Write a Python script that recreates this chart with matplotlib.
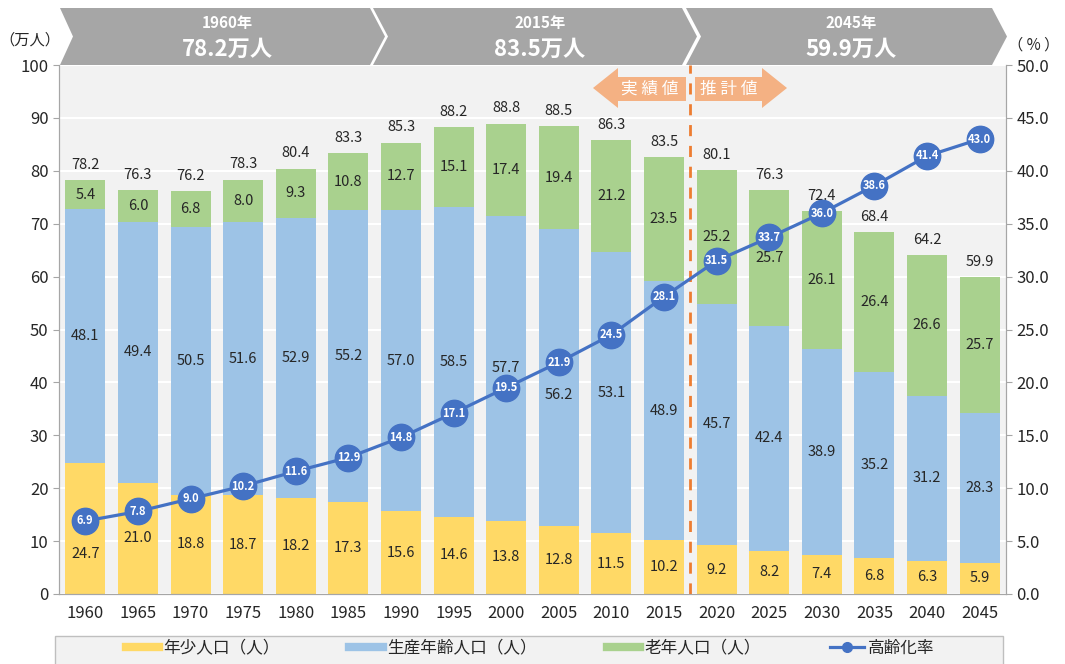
import matplotlib
matplotlib.use("Agg")
import matplotlib.pyplot as plt
import numpy as np
from matplotlib.patches import Polygon, Rectangle
from matplotlib.lines import Line2D

plt.rcParams['font.family'] = ['Noto Sans CJK JP', 'DejaVu Sans']

years = [1960, 1965, 1970, 1975, 1980, 1985, 1990, 1995, 2000,
         2005, 2010, 2015, 2020, 2025, 2030, 2035, 2040, 2045]
young = [24.7, 21.0, 18.8, 18.7, 18.2, 17.3, 15.6, 14.6, 13.8,
         12.8, 11.5, 10.2, 9.2, 8.2, 7.4, 6.8, 6.3, 5.9]
working = [48.1, 49.4, 50.5, 51.6, 52.9, 55.2, 57.0, 58.5, 57.7,
           56.2, 53.1, 48.9, 45.7, 42.4, 38.9, 35.2, 31.2, 28.3]
old = [5.4, 6.0, 6.8, 8.0, 9.3, 10.8, 12.7, 15.1, 17.4,
       19.4, 21.2, 23.5, 25.2, 25.7, 26.1, 26.4, 26.6, 25.7]
total = [78.2, 76.3, 76.2, 78.3, 80.4, 83.3, 85.3, 88.2, 88.8,
         88.5, 86.3, 83.5, 80.1, 76.3, 72.4, 68.4, 64.2, 59.9]
aging_rate = [6.9, 7.8, 9.0, 10.2, 11.6, 12.9, 14.8, 17.1, 19.5,
              21.9, 24.5, 28.1, 31.5, 33.7, 36.0, 38.6, 41.4, 43.0]
series_names = ['年少人口（人）', '生産年齢人口（人）', '老年人口（人）', '高齢化率']
banner_years = [1960, 2015, 2045]
last_actual = 2015

C_YOUNG = '#FFD966'
C_WORK = '#9DC3E6'
C_OLD = '#A9D18E'
C_LINE = '#4472C4'
TXT = '#262626'

W, H = 1065, 664
fig = plt.figure(figsize=(W / 100, H / 100), dpi=100)
ax = fig.add_axes([59 / W, 1 - 594 / H, (1006 - 59) / W, (594 - 65) / H])
ax.set_facecolor('#F2F2F2')

x = np.arange(len(years))
young_a = np.array(young)
work_a = np.array(working)
old_a = np.array(old)
rate_left = np.array(aging_rate) * 2  # marker height in left-axis units
bw = 0.76
ax.bar(x, young_a, bw, color=C_YOUNG, zorder=2)
ax.bar(x, work_a, bw, bottom=young_a, color=C_WORK, zorder=2)
ax.bar(x, old_a, bw, bottom=young_a + work_a, color=C_OLD, zorder=2)


def label_y(y, i):
    # push a label down when it sits just under the marker
    d = rate_left[i] - y
    if 0 <= d < 3:
        return rate_left[i] - 6.2
    return y


for i in range(len(years)):
    ax.text(x[i], label_y(young_a[i] / 2, i), f'{young[i]:.1f}', ha='center',
            va='center', fontsize=10.5, color=TXT, zorder=3)
    ax.text(x[i], label_y(young_a[i] + work_a[i] / 2, i), f'{working[i]:.1f}',
            ha='center', va='center', fontsize=10.5, color=TXT, zorder=3)
    ax.text(x[i], young_a[i] + work_a[i] + old_a[i] / 2, f'{old[i]:.1f}',
            ha='center', va='center', fontsize=10.5, color=TXT, zorder=3)
    ax.annotate(f'{total[i]:.1f}', (x[i], young_a[i] + work_a[i] + old_a[i]),
                xytext=(0, 6), textcoords='offset points', ha='center',
                va='bottom', fontsize=10.5, color=TXT, zorder=3)

split = years.index(last_actual) + 0.5
ax.axvline(split, color='#ED7D31', lw=2, dashes=(4, 3.5), zorder=4)

ax.set_xlim(-0.5, len(years) - 0.5)
ax.set_ylim(0, 100)
ax.set_yticks(range(0, 101, 10))
ax.set_xticks(x)
ax.set_xticklabels([str(y) for y in years], fontsize=12, color=TXT)
ax.tick_params(axis='x', length=0, pad=8)
ax.tick_params(axis='y', labelsize=12, labelcolor=TXT, color='#A6A6A6',
               length=4, direction='out')
ax.grid(axis='y', color='white', lw=1.5)
ax.set_axisbelow(True)
ax.spines['top'].set_visible(False)
for s in ['left', 'right', 'bottom']:
    ax.spines[s].set_color('#A6A6A6')

ax2 = ax.twinx()
ax2.set_ylim(0, 50)
ax2.set_yticks(np.arange(0, 50.1, 5))
ax2.set_yticklabels([f'{v:.1f}' for v in np.arange(0, 50.1, 5)])
ax2.tick_params(axis='y', labelsize=12, labelcolor=TXT, color='#A6A6A6',
                length=4, direction='out')
ax2.spines['top'].set_visible(False)
for s in ['left', 'right', 'bottom']:
    ax2.spines[s].set_color('#A6A6A6')
ax2.plot(x, aging_rate, color=C_LINE, lw=2.3, marker='o', markersize=19,
         markeredgecolor=C_LINE, zorder=5)
for i in range(len(years)):
    ax2.text(x[i], aging_rate[i], f'{aging_rate[i]:.1f}', ha='center',
             va='center', fontsize=8, color='white', fontweight='bold', zorder=6)

fig.text(30 / W, 1 - 40 / H, '（万人）', ha='center', va='center', fontsize=11, color=TXT)
fig.text(1034 / W, 1 - 45 / H, '（ % ）', ha='center', va='center', fontsize=11, color=TXT)

# overlay in pixel coordinates for banners, arrows and the legend box
ov = fig.add_axes([0, 0, 1, 1], zorder=10)
ov.set_xlim(0, W)
ov.set_ylim(H, 0)
ov.axis('off')
ov.patch.set_alpha(0)

chevrons = [(60, 370, 385, 73), (373, 682, 697, 388), (686, 992, 1007, 701)]
for (xl, xr, tip, notch), yr in zip(chevrons, banner_years):
    ov.add_patch(Polygon([(xl, 8), (xr, 8), (tip, 36.5), (xr, 65), (xl, 65),
                          (notch, 36.5)], closed=True, fc='#A6A6A6', ec='none'))
    cx = (xl + tip) / 2 + 5
    ov.text(cx, 23, f'{yr}年', ha='center', va='center', fontsize=11,
            fontweight='bold', color='white')
    ov.text(cx, 49, f'{total[years.index(yr)]:.1f}万人', ha='center',
            va='center', fontsize=16, fontweight='bold', color='white')

ov.add_patch(Polygon([(593, 88), (618, 68), (618, 77), (686, 77), (686, 101),
                      (618, 101), (618, 108)], closed=True, fc='#F4B183', ec='none'))
ov.add_patch(Polygon([(695, 77), (762, 77), (762, 68), (787, 88), (762, 108),
                      (762, 101), (695, 101)], closed=True, fc='#F4B183', ec='none'))
ov.text(650, 89, '実 績 値', ha='center', va='center', fontsize=12, color='white')
ov.text(729, 89, '推 計 値', ha='center', va='center', fontsize=12, color='white')

ov.add_patch(Rectangle((55, 636), 1003 - 55, 40, fc='#F2F2F2', ec='#BFBFBF', lw=1))

handles = [Line2D([], [], color=C_YOUNG, lw=6),
           Line2D([], [], color=C_WORK, lw=6),
           Line2D([], [], color=C_OLD, lw=6),
           Line2D([], [], color=C_LINE, lw=2.3, marker='o', markersize=7)]
leg = ov.legend(handles, series_names, loc='center', ncol=4,
                bbox_to_anchor=(530 / W, 1 - 648 / H), bbox_transform=fig.transFigure,
                frameon=False, fontsize=12, handlelength=2.0,
                handletextpad=0.25, columnspacing=4.2, borderaxespad=0,
                borderpad=0)
for t in leg.get_texts():
    t.set_color(TXT)

fig.savefig('out.png', dpi=100)
